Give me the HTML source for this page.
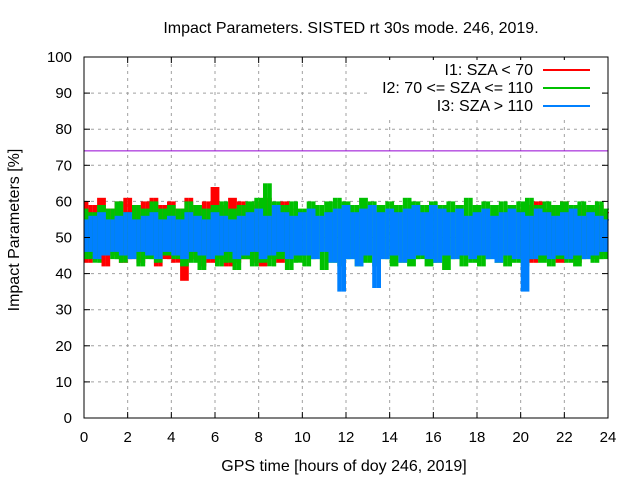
<!DOCTYPE html>
<html><head><meta charset="utf-8"><style>
body{margin:0;background:#fff}
svg text{font-family:"Liberation Sans",sans-serif;font-size:15px;fill:#000}
svg text.big{font-size:16px}
</style></head><body>
<svg id="c" width="640" height="480">
<text class="big" x="351" y="33" text-anchor="middle">Impact Parameters. SISTED rt 30s mode. 246, 2019.</text>
<text class="big" x="344" y="471" text-anchor="middle">GPS time [hours of doy 246, 2019]</text>
<text class="big" transform="translate(19,230) rotate(-90)" text-anchor="middle">Impact Parameters [%]</text>
<g id="grid"></g><g id="series"></g><g id="axes"></g><g id="legend"></g>
</svg>
<script>
const xTicks=[0,2,4,6,8,10,12,14,16,18,20,22,24];
const yTicks=[0,10,20,30,40,50,60,70,80,90,100];
const refLevel=74;
const step=0.2;
const blue=[55,46,56,44,57,45,55,46,56,45,57,44,55,46,56,45,57,44,55,46,56,45,55,44,57,46,56,45,55,44,57,45,56,46,55,44,56,45,57,46,58,44,56,45,59,46,57,44,56,45,57,45,58,44,56,46,57,43,58,35,59,44,57,42,58,45,59,36,57,44,58,45,57,43,58,44,59,45,57,44,59,43,58,45,57,44,58,45,56,44,57,45,58,44,56,43,57,45,58,44,57,35,56,44,58,45,57,44,56,45,57,44,58,45,56,44,57,45,56,46,55];
const green=[58,44,57,43,59,45,58,44,60,43,57,45,59,42,58,44,60,43,58,45,59,44,58,42,60,43,59,41,58,44,59,42,60,43,58,41,59,44,60,42,61,43,65,42,60,44,59,41,60,43,58,42,60,44,59,41,60,43,61,42,60,44,59,42,61,43,60,42,59,44,60,42,59,43,61,42,60,44,59,42,60,43,59,41,60,44,59,42,61,43,59,42,60,44,59,43,60,42,59,43,60,42,61,44,59,43,60,42,59,44,60,43,59,42,60,44,59,43,60,44,58];
const red=[60,43,59,44,61,42,58,45,60,43,61,44,59,43,60,45,61,42,59,44,60,43,58,38,61,44,59,42,60,43,64,44,59,42,61,43,60,44,59,43,60,42,61,44,59,43,60,44,58,null,null,null,null,null,null,null,null,null,null,null,null,null,null,null,null,null,null,null,null,null,null,null,null,null,null,null,null,null,null,null,null,null,null,null,null,null,null,null,null,null,null,null,null,null,null,null,null,null,null,null,58,44,59,43,60,44,58,45,59,43,60,44,58,43,59,45,58,44,59,45,57];
const seriesNames=["I1: SZA < 70","I2: 70 <= SZA <= 110","I3: SZA > 110"];
const seriesColors=["#ff0000","#00c000","#0080ff"];
const L=84,R=608,T=57,B=418;
const xs=v=>L+(v/24)*(R-L);
const ys=v=>B-(v/100)*(B-T);
const NS="http://www.w3.org/2000/svg";
function mk(p,tag,a){const e=document.createElementNS(NS,tag);for(const k in a)e.setAttribute(k,a[k]);p.appendChild(e);return e;}
const grid=document.getElementById('grid'),axes=document.getElementById('axes'),ser=document.getElementById('series'),leg=document.getElementById('legend');
xTicks.forEach(t=>{
 if(t>0&&t<24){const g=mk(grid,'line',{x1:xs(t),x2:xs(t),y1:T,y2:B,stroke:'#a0a0a0','stroke-dasharray':'3,4'});
 
 }
 const k=mk(axes,'line',{x1:xs(t),x2:xs(t),y1:B,y2:B-6,stroke:'#000'});
 
 
 const k2=mk(axes,'line',{x1:xs(t),x2:xs(t),y1:T,y2:T+6,stroke:'#000'});
 
 
 const tx=mk(axes,'text',{x:xs(t),y:B+24,'text-anchor':'middle'});tx.textContent=t;
 
 
});
yTicks.forEach(t=>{
 if(t>0&&t<100){const g=mk(grid,'line',{x1:L,x2:R,y1:ys(t),y2:ys(t),stroke:'#a0a0a0','stroke-dasharray':'3,4'});
 
 }
 const k=mk(axes,'line',{x1:L,x2:L+6,y1:ys(t),y2:ys(t),stroke:'#000'});
 
 
 const k2=mk(axes,'line',{x1:R,x2:R-6,y1:ys(t),y2:ys(t),stroke:'#000'});
 
 
 const tx=mk(axes,'text',{x:L-12,y:ys(t)+5,'text-anchor':'end'});tx.textContent=t;
 
 
});
[red,green,blue].forEach((arr,si)=>{
 const g=mk(ser,'g',{fill:seriesColors[si]});
 
 
 for(let i=0;i<arr.length;i++){
  const a=arr[i];if(a===null)continue;
  const b=(i+1<arr.length&&arr[i+1]!==null)?arr[i+1]:a;
  const hi=Math.max(a,b),lo=Math.min(a,b);
  const x0=xs(i*step),x1=xs(Math.min(24,(i+1)*step));
  const r=mk(g,'rect',{x:x0.toFixed(1),y:ys(hi).toFixed(1),width:Math.max(1,x1-x0).toFixed(1),height:Math.max(1,ys(lo)-ys(hi)).toFixed(1)});
  
  
 }
});
const ref=mk(ser,'line',{x1:L,x2:R,y1:ys(refLevel),y2:ys(refLevel),stroke:'#9400d3','stroke-width':1});


const frame=mk(axes,'rect',{x:L,y:T,width:R-L,height:B-T,fill:'none',stroke:'#000'});


const lbg=mk(leg,'rect',{x:368,y:60,width:234,height:56,fill:'#fff'});


seriesNames.forEach((n,i)=>{
 const y=70+i*18;
 const t=mk(leg,'text',{x:533,y:y+5,'text-anchor':'end'});t.textContent=n;
 t.setAttribute('class','big');
 
 
 const l=mk(leg,'line',{x1:543,x2:590,y1:y,y2:y,stroke:seriesColors[i],'stroke-width':2});
 
 
});
</script>
</body></html>
